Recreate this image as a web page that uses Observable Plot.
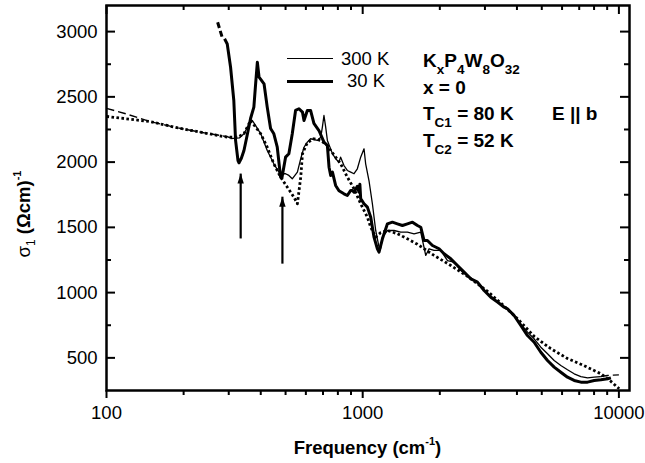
<!DOCTYPE html>
<html><head><meta charset="utf-8">
<script src="https://cdn.jsdelivr.net/npm/d3@7"></script>
<script src="https://cdn.jsdelivr.net/npm/@observablehq/plot@0.6"></script>
<style>
body{margin:0;background:#fff;}
#wrap{position:relative;width:645px;height:463px;font-family:"Liberation Sans",Arial,sans-serif;color:#000;overflow:hidden;}
.ov{position:absolute;white-space:nowrap;line-height:1;font-size:18.5px;}
.b{font-weight:bold;font-size:19px;}
.sub{position:relative;top:7px;font-size:13.5px;}
.sup{position:relative;top:-9px;font-size:11px;}
.ln{position:absolute;background:#000;}
</style></head><body><div id="wrap"></div>
<script>
// ---- data: frequency (cm^-1), sigma_1 ((Ohm cm)^-1) ----
const thick30K = [[289,2945],[296,2905],[305,2727],[314,2472],[319,2166],[326,2012],[329,1995],[336,2030],[344,2089],[355,2217],[365,2334],[376,2421],[382,2600],[388,2766],[394,2651],[412,2600],[424,2421],[437,2258],[450,2217],[464,2114],[478,1885],[484,1880],[500,2038],[515,2064],[531,2217],[547,2396],[564,2409],[582,2383],[590,2319],[608,2396],[626,2396],[645,2296],[675,2242],[706,2153],[728,2127],[739,1961],[750,1898],[762,1923],[784,1821],[808,1780],[845,1757],[871,1744],[898,1783],[911,1783],[925,1770],[953,1815],[967,1770],[975,1830],[982,1720],[1012,1681],[1043,1655],[1075,1578],[1107,1425],[1141,1336],[1158,1310],[1194,1412],[1249,1527],[1306,1540],[1366,1527],[1429,1514],[1495,1527],[1564,1540],[1636,1514],[1685,1501],[1736,1399],[1789,1399],[1872,1361],[1987,1336],[2078,1298],[2207,1259],[2344,1208],[2487,1157],[2642,1106],[2805,1080],[2978,1016],[3162,965],[3359,927],[3565,888],[3675,876],[3899,825],[4141,748],[4398,671],[4669,620],[4958,543],[5265,480],[5589,429],[5934,390],[6302,352],[6690,327],[7105,314],[7545,314],[8008,327],[8506,332],[9034,340],[9307,347]];
const thick30KExtrap = [[271.5,3072],[284,2945]];
const thin300K = [[305,2180],[330,2185],[344,2217],[355,2268],[365,2319],[371,2319],[400,2217],[424,2089],[450,1987],[471,1923],[486,1911],[500,1911],[515,1898],[531,1872],[556,1923],[573,2026],[590,2114],[608,2153],[626,2179],[665,2166],[686,2191],[696,2268],[706,2357],[717,2268],[728,2166],[762,2064],[784,2026],[808,2000],[820,2038],[845,1974],[871,1936],[898,1923],[925,1911],[953,1949],[982,2038],[1012,2102],[1027,1987],[1058,1859],[1091,1681],[1124,1476],[1158,1348],[1176,1340],[1194,1425],[1249,1476],[1326,1476],[1408,1463],[1495,1463],[1587,1451],[1685,1463],[1762,1285],[1816,1336],[1899,1323],[2017,1323],[2143,1246],[2273,1233],[2415,1170],[2565,1131],[2722,1093],[2890,1055],[3070,991],[3258,953],[3460,914],[3899,825],[4141,761],[4398,697],[4669,646],[4958,582],[5265,531],[5589,480],[5934,442],[6302,409],[6690,378],[7105,357],[7545,347],[8008,352],[8506,357]];
const thin300KExtrapLow = [[100,2412],[119,2370],[148.5,2310],[190,2262],[233,2229],[296,2195],[310,2180]];
const thin300KExtrapHigh = [[8506,357],[9034,365],[9500,368],[10000,370]];
const fitDotted = [[100,2350],[148.5,2310],[190,2262],[233,2229],[296,2191],[324,2191],[344,2217],[365,2319],[400,2217],[424,2114],[450,1987],[478,1885],[508,1808],[539,1731],[556,1681],[573,1885],[582,2064],[608,2150],[645,2179],[686,2166],[728,2127],[750,2089],[820,1987],[871,1885],[925,1796],[982,1681],[1043,1578],[1075,1501],[1124,1425],[1176,1460],[1249,1476],[1366,1451],[1495,1412],[1636,1370],[1899,1285],[2207,1208],[2565,1125],[3070,1010],[3460,920],[4020,800],[4669,665],[5424,570],[6302,495],[7319,440],[8506,378],[9307,320],[10030,263]];
const arrowFreq = [334, 486];
const arrowFrom = [1415, 1222];
const arrowTo = [1912, 1735];
const xDomain = [100, 11000];
const yDomain = [250, 3200];
const xMajor = [100, 1000, 10000];
const xMinor = [200,300,400,500,600,700,800,900,2000,3000,4000,5000,6000,7000,8000,9000];
const yMajor = [500, 1000, 1500, 2000, 2500, 3000];
const yMinor = [750, 1250, 1750, 2250, 2750];

const toObj = a => a.map(([f, s]) => ({f, s}));
const arrows = arrowFreq.map((f, i) => ({f, s1: arrowFrom[i], s2: arrowTo[i]}));
const fmt = d3.format("d");
// narrow filled arrow head, tip at the anchor point
const arrowHead = {draw(ctx) { ctx.moveTo(0, 0); ctx.lineTo(3.2, 10); ctx.lineTo(-3.2, 10); ctx.closePath(); }};
const tickStyle = {stroke: "#000", strokeWidth: 2, strokeLinecap: "butt"};
const lineBase = {x: "f", y: "s", stroke: "#000", strokeLinecap: "butt"};

const plot = Plot.plot({
  width: 645, height: 463,
  marginLeft: 106, marginRight: 16, marginTop: 5, marginBottom: 73,
  style: {fontFamily: '"Liberation Sans", Arial, sans-serif', fontSize: "18.5px", color: "#000", background: "#fff"},
  x: {type: "log", domain: xDomain},
  y: {domain: yDomain},
  marks: [
    Plot.lineY(toObj(fitDotted), {...lineBase, strokeWidth: 2.8, strokeDasharray: "2.6,2.4"}),
    Plot.lineY(toObj(thin300KExtrapLow), {...lineBase, strokeWidth: 1.4, strokeDasharray: "8,4"}),
    Plot.lineY(toObj(thin300KExtrapHigh), {...lineBase, strokeWidth: 1.4, strokeDasharray: "8,4"}),
    Plot.lineY(toObj(thin300K), {...lineBase, strokeWidth: 1.3, strokeLinejoin: "round"}),
    Plot.lineY(toObj(thick30KExtrap), {...lineBase, strokeWidth: 3, strokeDasharray: "6,3"}),
    Plot.lineY(toObj(thick30K), {...lineBase, strokeWidth: 3, strokeLinejoin: "round"}),
    Plot.link(arrows, {x1: "f", x2: "f", y1: "s1", y2: "s2", stroke: "#000", strokeWidth: 2.2}),
    Plot.dot(arrows, {x: "f", y: "s2", symbol: arrowHead, fill: "#000", stroke: "none"}),
    // bottom axis (outward ticks)
    Plot.axisX(xMajor, {anchor: "bottom", tickSize: 8, fill: "none", strokeWidth: 2, label: null}),
    Plot.axisX(xMinor, {anchor: "bottom", tickSize: 5, fill: "none", strokeWidth: 2, label: null}),
    Plot.axisX(xMajor, {anchor: "bottom", tickSize: 0, tickPadding: 15, tickFormat: fmt, label: null}),
    Plot.axisY(yMajor, {anchor: "left", tickSize: 0, tickPadding: 9, tickFormat: fmt, label: null}),
    // inward ticks on top, left and right edges
    Plot.ruleX(xMajor, {y1: yDomain[1], y2: yDomain[1], insetBottom: -9, ...tickStyle}),
    Plot.ruleX(xMinor, {y1: yDomain[1], y2: yDomain[1], insetBottom: -5, ...tickStyle}),
    Plot.ruleY(yMajor, {x1: xDomain[0], x2: xDomain[0], insetRight: -9, ...tickStyle}),
    Plot.ruleY(yMinor, {x1: xDomain[0], x2: xDomain[0], insetRight: -5, ...tickStyle}),
    Plot.ruleY(yMajor, {x1: xDomain[1], x2: xDomain[1], insetLeft: -9, ...tickStyle}),
    Plot.ruleY(yMinor, {x1: xDomain[1], x2: xDomain[1], insetLeft: -5, ...tickStyle}),
    Plot.frame({stroke: "#000", strokeWidth: 2.5})
  ]
});

const wrap = document.getElementById("wrap");
wrap.appendChild(plot);
const ov = document.createElement("div");
ov.innerHTML = `
<div class="ln" style="left:287px;top:57.7px;width:46px;height:1.3px"></div>
<div class="ln" style="left:287px;top:79.5px;width:46px;height:3px"></div>
<div class="ov" style="left:341px;top:50.3px">300 K</div>
<div class="ov" style="left:347px;top:72px">30 K</div>
<div class="ov b" style="left:423px;top:50.6px">K<span class="sub">x</span>P<span class="sub">4</span>W<span class="sub">8</span>O<span class="sub">32</span></div>
<div class="ov b" style="left:423px;top:78.2px">x = 0</div>
<div class="ov b" style="left:423px;top:104px">T<span class="sub">C1</span> = 80 K</div>
<div class="ov b" style="left:552px;top:104px">E || b</div>
<div class="ov b" style="left:423px;top:131px">T<span class="sub">C2</span> = 52 K</div>
<div class="ov" style="left:367.5px;top:439.3px;transform:translateX(-50%);font-weight:bold">Frequency (cm<span class="sup">-1</span>)</div>
<div class="ov" style="left:23.5px;top:214px;transform:translate(-50%,-50%) rotate(-90deg)">σ<span class="sub" style="font-size:12px;top:5px">1</span> <b>(Ωcm)<span class="sup">-1</span></b></div>
`;
wrap.appendChild(ov);
</script></body></html>
